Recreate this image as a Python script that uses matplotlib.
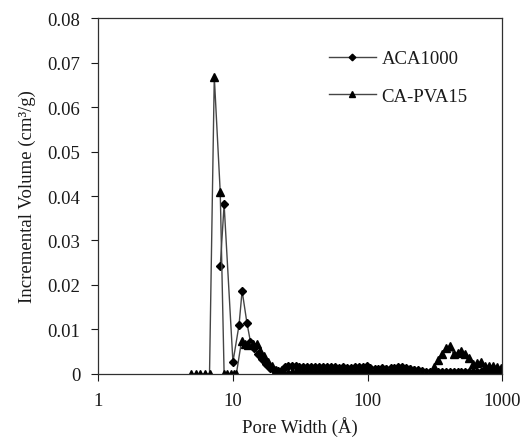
import matplotlib
matplotlib.use("Agg")
import matplotlib.pyplot as plt
from matplotlib.ticker import FixedLocator, FixedFormatter, NullLocator

plt.rcParams['font.family'] = ['Liberation Serif', 'DejaVu Serif']

# ---- data ----
tail_x = [25.5, 27.3, 29.2, 31.2, 33.4, 35.7, 38.2, 40.9, 43.7, 46.8, 50.0, 53.5,
          57.3, 61.3, 65.6, 70.1, 75.0, 80.3, 85.9, 91.9, 98.3, 105, 113, 120, 129,
          138, 148, 158, 169, 181, 193, 207, 221, 237, 253, 271, 290, 310, 332, 355,
          380, 407, 435, 466, 498, 533, 570, 610, 653, 699, 748, 800, 856, 916, 980]

aca_head_x = [8.05, 8.6, 10.0, 11.1, 11.7, 12.7, 13.5, 14.4, 15.4, 16.5, 17.6,
              18.9, 20.2, 21.6, 23.1, 24.2]
aca_head_y = [0.0242, 0.0381, 0.0027, 0.0110, 0.0187, 0.0115, 0.0072, 0.0058,
              0.0045, 0.0033, 0.0023, 0.0014, 0.0008, 0.0006, 0.0010, 0.0015]
aca_tail_y = [0.0017, 0.0018, 0.0017, 0.0016, 0.0016, 0.0016, 0.0016, 0.0015,
              0.0015, 0.0016, 0.0015, 0.0015, 0.0015, 0.0014, 0.0015, 0.0014,
              0.0014, 0.0015, 0.0016, 0.0016, 0.0018, 0.0014, 0.0012, 0.0012,
              0.0013, 0.0012, 0.0013, 0.0014, 0.0015, 0.0015, 0.0014, 0.0012,
              0.0010, 0.0008, 0.0006, 0.0005, 0.0005, 0.0005, 0.0004, 0.0004,
              0.0005, 0.0005, 0.0004, 0.0004, 0.0004, 0.0004, 0.0004, 0.0004,
              0.0004, 0.0004, 0.0004, 0.0004, 0.0003, 0.0003, 0.0003]

pva_head_x = [4.9, 5.3, 5.7, 6.2, 6.7, 7.27, 8.05, 8.6, 9.1, 9.6, 10.1, 10.6,
              11.6, 12.3, 13.0, 14.0, 15.0, 16.0, 17.0, 18.2, 19.5, 21.0, 22.5, 24.0]
pva_head_y = [0.0, 0.0, 0.0, 0.0, 0.0, 0.0668, 0.0408, 0.0, 0.0, 0.0, 0.0, 0.0,
              0.0075, 0.0068, 0.0066, 0.0068, 0.0068, 0.0052, 0.0040, 0.0028,
              0.0018, 0.0010, 0.0004, 0.0002]
pva_tail_y = [0.0003, 0.0005, 0.0006, 0.0006, 0.0006, 0.0006, 0.0006, 0.0006,
              0.0006, 0.0006, 0.0006, 0.0006, 0.0006, 0.0006, 0.0007, 0.0007,
              0.0007, 0.0007, 0.0007, 0.0008, 0.0009, 0.0008, 0.0009, 0.0010,
              0.0010, 0.0011, 0.0011, 0.0012, 0.0012, 0.0012, 0.0011, 0.0011,
              0.0008, 0.0003, 0.0001, 0.0001, 0.0003, 0.0015, 0.0032, 0.0045,
              0.0058, 0.0063, 0.0045, 0.0048, 0.0052, 0.0046, 0.0036, 0.0022,
              0.0025, 0.0028, 0.0018, 0.0017, 0.0019, 0.0016, 0.0014]

x_ticks = [1, 10, 100, 1000]
x_tick_labels = ["1", "10", "100", "1000"]
y_ticks = [0, 0.01, 0.02, 0.03, 0.04, 0.05, 0.06, 0.07, 0.08]
y_tick_labels = ["0", "0.01", "0.02", "0.03", "0.04", "0.05", "0.06", "0.07", "0.08"]

# ---- figure ----
fig = plt.figure(figsize=(5.27, 4.39), dpi=100)
ax = fig.add_axes([0.1865, 0.1458, 0.7665, 0.8109])

line_col = '#454545'
ax.plot(aca_head_x + tail_x, aca_head_y + aca_tail_y, color=line_col, lw=1.0,
        marker='D', ms=4.2, mfc='black', mec='black', label='ACA1000')
ax.plot(pva_head_x + tail_x, pva_head_y + pva_tail_y, color=line_col, lw=1.0,
        marker='^', ms=5.5, mfc='black', mec='black', label='CA-PVA15')

ax.set_xscale('log')
ax.set_xlim(1, 1000)
ax.set_ylim(0, 0.08)
ax.xaxis.set_major_locator(FixedLocator(x_ticks))
ax.xaxis.set_major_formatter(FixedFormatter(x_tick_labels))
ax.xaxis.set_minor_locator(NullLocator())
ax.yaxis.set_major_locator(FixedLocator(y_ticks))
ax.yaxis.set_major_formatter(FixedFormatter(y_tick_labels))

ax.tick_params(axis='both', direction='out', length=5, width=0.8, labelsize=13.5,
               colors='#1a1a1a')
ax.tick_params(axis='y', pad=8)
ax.tick_params(axis='x', pad=8)
for s in ax.spines.values():
    s.set_linewidth(0.9)
    s.set_color('#303030')

ax.set_xlabel('Pore Width (Å)', fontsize=13.5, labelpad=5, color='#1a1a1a')
ax.set_ylabel('Incremental Volume (cm³/g)', fontsize=13.5, labelpad=8, color='#1a1a1a')

leg = ax.legend(loc='upper left', bbox_to_anchor=(329 / 527, 1 - 51 / 439),
                bbox_transform=fig.transFigure, frameon=False,
                fontsize=13.5, handlelength=2.5, labelspacing=1.1,
                markerscale=0.8, handletextpad=0.3, borderpad=0,
                borderaxespad=0)
for t in leg.get_texts():
    t.set_color('#1a1a1a')

fig.savefig('out.png', dpi=100)
